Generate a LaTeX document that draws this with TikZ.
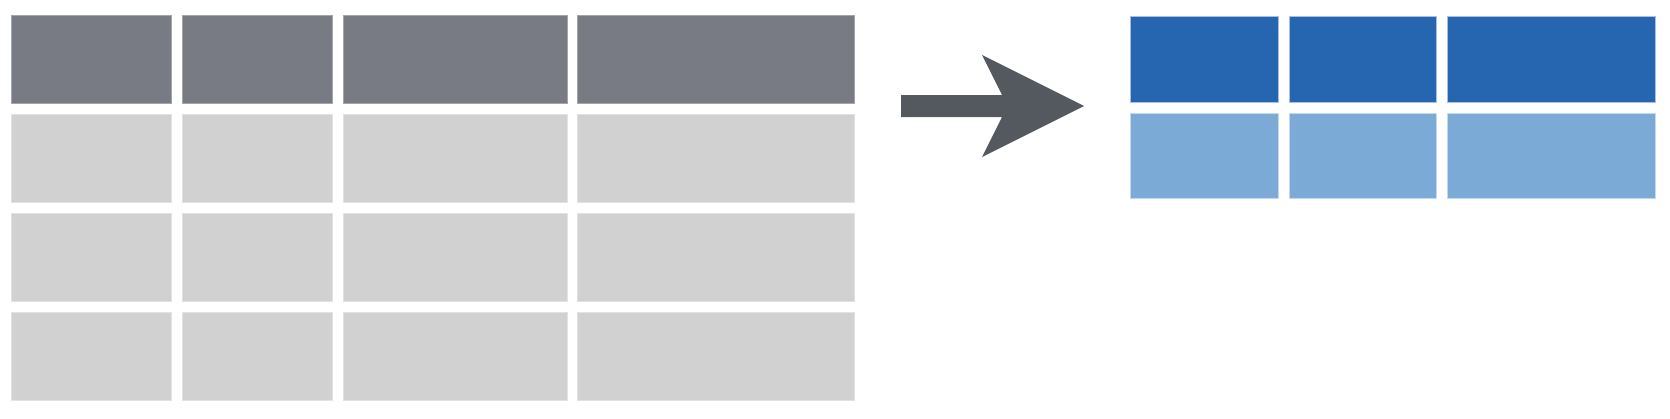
\documentclass[tikz,border=0pt]{standalone}
\usetikzlibrary{positioning}
\definecolor{hdrgray}{HTML}{787B84}
\definecolor{hdrgrayb}{HTML}{A3A5AB}
\definecolor{cellgray}{HTML}{D1D1D1}
\definecolor{cellgrayb}{HTML}{E2E2E2}
\definecolor{arrowgray}{HTML}{54585F}
\definecolor{darkblue}{HTML}{2665AF}
\definecolor{darkblueb}{HTML}{A9BFE3}
\definecolor{lightblue}{HTML}{7AAAD5}
\definecolor{lightblueb}{HTML}{C4D8EE}
\tikzset{
  cellbox/.style={rectangle, inner sep=0pt, outer sep=0pt, line width=0.6pt},
  hdrcell/.style={cellbox, fill=hdrgray, draw=hdrgrayb},
  graycell/.style={cellbox, fill=cellgray, draw=cellgrayb},
  bluehdr/.style={cellbox, fill=darkblue, draw=darkblueb},
  bluecell/.style={cellbox, fill=lightblue, draw=lightblueb},
  arrowshape/.style={fill=arrowgray, draw=none}
}
\begin{document}
\begin{tikzpicture}[x=0.05cm, y=-0.05cm]
\useasboundingbox (0,0) rectangle (1670,419);
% left table
\foreach \xa/\xb [count=\c] in {11/171,182/332,343/567,577/854}{
  \foreach \ya/\yb [count=\r] in {15/103,114/202,213/301,312/400}{
    \ifnum\r=1
      \node[hdrcell, minimum width={(\xb-\xa)*0.05cm}, minimum height={(\yb-\ya)*0.05cm}]
        (L\r\c) at ({(\xa+\xb)/2},{(\ya+\yb)/2}) {};
    \else
      \node[graycell, minimum width={(\xb-\xa)*0.05cm}, minimum height={(\yb-\ya)*0.05cm}]
        (L\r\c) at ({(\xa+\xb)/2},{(\ya+\yb)/2}) {};
    \fi
  }
}
% right table
\foreach \xa/\xb [count=\c] in {1130/1278,1289/1436,1447/1655}{
  \node[bluehdr, minimum width={(\xb-\xa)*0.05cm}, minimum height={86*0.05cm}]
    (R1\c) at ({(\xa+\xb)/2},59) {};
  \node[bluecell, minimum width={(\xb-\xa)*0.05cm}, minimum height={85*0.05cm}]
    (R2\c) at ({(\xa+\xb)/2},155.5) {};
}
% arrow
\coordinate (atail) at (901,106);
\coordinate (atip) at (1084,106);
\fill[arrowshape] (901,95) -- (1002,95) -- (982,55) -- (atip) -- (982,157) -- (1002,117) -- (901,117) -- cycle;
\end{tikzpicture}
\end{document}
